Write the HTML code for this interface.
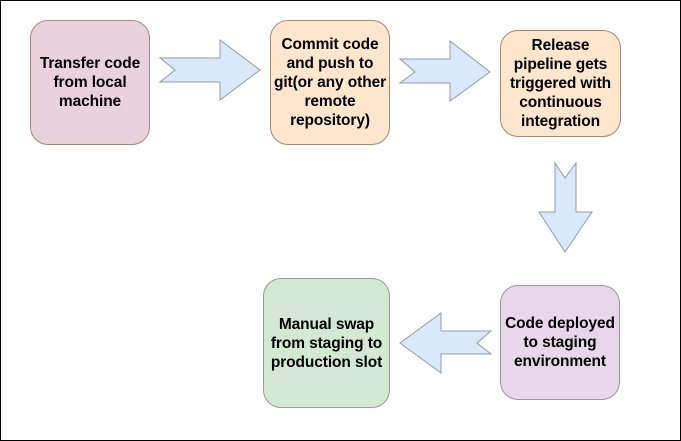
<!DOCTYPE html>
<html><head><style>
body{margin:0;width:681px;height:441px;background:#fff;overflow:hidden}
.f{position:absolute;left:0;top:0;width:679px;height:439px;border:1px solid #000}
.b{position:absolute;box-sizing:border-box;border:1px solid #a08c7c;border-radius:18px;display:flex;align-items:center;justify-content:center;text-align:center;font:bold 15.5px/19px "Liberation Sans",sans-serif;color:#000;letter-spacing:-0.1px}
</style></head><body>
<div class="f"></div>
<svg width="681" height="441" style="position:absolute;left:0;top:0">
<g fill="#dae8fc" stroke="#9a9a9a" stroke-width="1">
<polygon points="160,58 220,58 220,40 260,70 220,100 220,82 160,82 175,70"/>
<polygon points="400,59 450,59 450,41 490,72 450,101 450,83 400,83 415,72"/>
<polygon points="555,163 555,212 539,212 565,252 592,212 576,212 576,163 565,178"/>
<polygon points="491,331 441,331 441,313 400,343 441,373 441,354 491,354 477,343"/>
</g></svg>
<div class="b" style="left:30px;top:20px;width:120px;height:125px;background:#e8d2dc">Transfer code<br>from local<br>machine</div>
<div class="b" style="left:270px;top:20px;width:120px;height:125px;background:#ffe6cc">Commit code<br>and push to<br>git(or any other<br>remote<br>repository)</div>
<div class="b" style="left:500px;top:30px;width:121px;height:107px;background:#ffe6cc">Release<br>pipeline gets<br>triggered with<br>continuous<br>integration</div>
<div class="b" style="left:500px;top:285px;width:120px;height:115px;background:#e6d8e8;border-color:#999">Code deployed<br>to staging<br>environment</div>
<div class="b" style="left:263px;top:278px;width:127px;height:130px;background:#d5e8d4;border-color:#999">Manual swap<br>from staging to<br>production slot</div>
</body></html>
